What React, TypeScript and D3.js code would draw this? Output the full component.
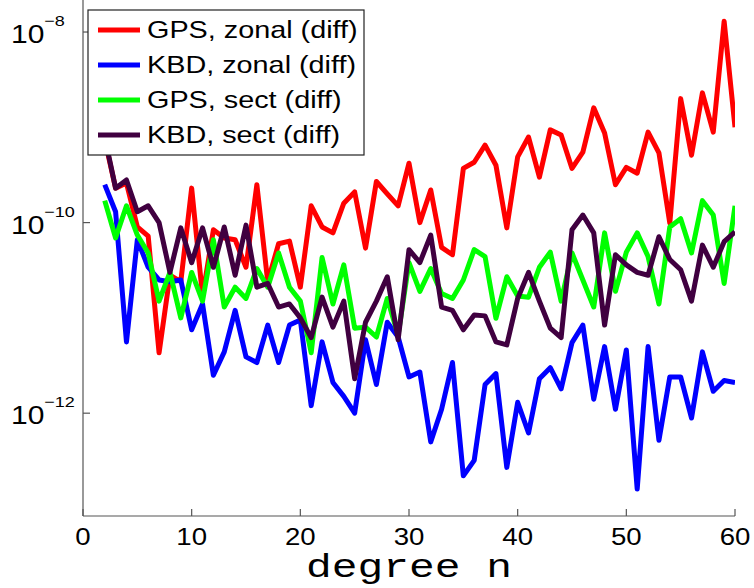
import React from "react";
import * as d3 from "d3";

// Spherical-harmonic degree n
const degrees = [
  2, 3, 4, 5, 6, 7, 8, 9, 10, 11, 12, 13, 14, 15, 16, 17, 18, 19, 20, 21,
  22, 23, 24, 25, 26, 27, 28, 29, 30, 31, 32, 33, 34, 35, 36, 37, 38, 39, 40, 41,
  42, 43, 44, 45, 46, 47, 48, 49, 50, 51, 52, 53, 54, 55, 56, 57, 58, 59, 60,
];

const gpsZonal = [
  7.4e-10, 2.3e-10, 2.6e-10, 9.0e-11, 7.2e-11, 4.3e-12, 2.8e-11, 2.4e-11, 2.3e-10, 1.7e-11,
  8.4e-11, 6.9e-11, 6.6e-11, 3.4e-11, 2.5e-10, 2.4e-11, 6.0e-11, 6.4e-11, 2.1e-11, 1.5e-10,
  9.0e-11, 7.8e-11, 1.6e-10, 2.1e-10, 5.4e-11, 2.7e-10, 2.0e-10, 1.5e-10, 4.2e-10, 1.0e-10,
  2.2e-10, 5.5e-11, 4.6e-11, 3.7e-10, 4.3e-10, 6.5e-10, 4.0e-10, 8.8e-11, 4.9e-10, 7.9e-10,
  3.0e-10, 9.4e-10, 8.3e-10, 3.7e-10, 5.5e-10, 1.6e-9, 8.7e-10, 2.5e-10, 3.8e-10, 3.3e-10,
  8.9e-10, 5.4e-10, 9.9e-11, 2.0e-9, 5.1e-10, 2.3e-9, 8.9e-10, 1.3e-8, 1.0e-9,
];

const kbdZonal = [
  2.5e-10, 1.3e-10, 5.6e-12, 6.6e-11, 3.4e-11, 2.5e-11, 2.4e-11, 2.5e-11, 7.5e-12, 1.4e-11,
  2.5e-12, 4.4e-12, 1.2e-11, 3.9e-12, 3.4e-12, 8.4e-12, 3.4e-12, 8.4e-12, 9.5e-12, 1.2e-12,
  5.6e-12, 2.1e-12, 1.5e-12, 1.0e-12, 5.9e-12, 2.0e-12, 9.0e-12, 6.3e-12, 2.4e-12, 2.7e-12,
  5.0e-13, 1.1e-12, 3.4e-12, 2.2e-13, 3.2e-13, 2.0e-12, 2.6e-12, 2.7e-13, 1.3e-12, 6.2e-13,
  2.3e-12, 3.0e-12, 1.8e-12, 5.5e-12, 8.4e-12, 1.4e-12, 5.0e-12, 1.1e-12, 4.6e-12, 1.6e-13,
  5.0e-12, 5.2e-13, 2.4e-12, 2.4e-12, 8.9e-13, 4.4e-12, 1.7e-12, 2.2e-12, 2.1e-12,
];

const gpsSect = [
  1.7e-10, 6.9e-11, 1.5e-10, 7.4e-11, 4.8e-11, 1.5e-11, 3.0e-11, 1.0e-11, 3.0e-11, 1.5e-11,
  6.6e-11, 1.3e-11, 2.1e-11, 1.6e-11, 3.3e-11, 2.1e-11, 4.8e-11, 2.1e-11, 1.5e-11, 4.3e-12,
  4.3e-11, 1.4e-11, 3.6e-11, 7.8e-12, 8.0e-12, 6.3e-12, 1.6e-11, 6.6e-12, 3.8e-11, 1.9e-11,
  3.3e-11, 1.8e-11, 1.6e-11, 2.5e-11, 5.2e-11, 4.4e-11, 9.9e-12, 2.7e-11, 1.7e-11, 1.65e-11,
  3.4e-11, 4.9e-11, 1.5e-11, 4.8e-11, 2.5e-11, 1.3e-11, 7.8e-11, 1.9e-11, 4.9e-11, 7.8e-11,
  4.4e-11, 1.4e-11, 9.0e-11, 1.1e-10, 4.8e-11, 1.7e-10, 1.2e-10, 2.3e-11, 1.5e-10,
];

const kbdSect = [
  7.9e-10, 2.3e-10, 2.8e-10, 1.3e-10, 1.5e-10, 1.0e-10, 3.0e-11, 8.8e-11, 3.8e-11, 8.8e-11,
  3.4e-11, 9.0e-11, 2.8e-11, 9.4e-11, 2.1e-11, 2.3e-11, 1.3e-11, 1.4e-11, 1.0e-11, 6.2e-12,
  1.65e-11, 8.0e-12, 1.5e-11, 2.3e-12, 9.0e-12, 1.5e-11, 2.7e-11, 5.9e-12, 5.2e-11, 3.8e-11,
  7.4e-11, 1.3e-11, 1.2e-11, 7.5e-12, 1.07e-11, 1.05e-11, 5.6e-12, 5.2e-12, 1.6e-11, 3.0e-11,
  1.5e-11, 7.8e-12, 6.2e-12, 8.4e-11, 1.2e-10, 7.8e-11, 8.4e-12, 4.6e-11, 3.6e-11, 3.0e-11,
  2.8e-11, 7.1e-11, 4.1e-11, 3.2e-11, 1.5e-11, 5.8e-11, 3.4e-11, 6.3e-11, 8.0e-11,
];

const seriesNames = [
  "GPS, zonal (diff)",
  "KBD, zonal (diff)",
  "GPS, sect (diff)",
  "KBD, sect (diff)",
];
const seriesColors = ["#ff0000", "#0000ff", "#00ff00", "#400040"];
const seriesValues = [gpsZonal, kbdZonal, gpsSect, kbdSect];

const xTicks = [0, 10, 20, 30, 40, 50, 60];
const yTickExponents = [-8, -10, -12];
const xLabel = "degree n";

const W = 754;
const H = 588;
const left = 83;
const right = 735;
const top = 0;
const bottom = 516;

export default function App() {
  const x = d3.scaleLinear().domain([0, 60]).range([left, right]);
  const y = d3
    .scaleLog()
    .domain([Math.pow(10, -13.079), Math.pow(10, -7.664)])
    .range([bottom, top]);

  const line = d3
    .line<[number, number]>()
    .x((d) => x(d[0]))
    .y((d) => y(d[1]));

  const axisColor = "#555";
  const sans = "'Liberation Sans', Arial, Helvetica, sans-serif";

  return (
    <svg
      width={W}
      height={H}
      viewBox={`0 0 ${W} ${H}`}
      style={{ position: "absolute", left: 0, top: 0, background: "#fff" }}
    >
      <defs>
        <clipPath id="plotArea">
          <rect x={left} y={top} width={right - left} height={bottom - top} />
        </clipPath>
      </defs>

      {/* data lines */}
      <g clipPath="url(#plotArea)">
        {seriesValues.map((vals, i) => (
          <path
            key={seriesNames[i]}
            d={line(degrees.map((n, k) => [n, vals[k]] as [number, number])) || ""}
            fill="none"
            stroke={seriesColors[i]}
            strokeWidth={5}
            strokeLinejoin="round"
            strokeLinecap="butt"
          />
        ))}
      </g>

      {/* axes */}
      <line x1={left} x2={left} y1={top} y2={bottom} stroke={axisColor} strokeWidth={1.2} />
      <line x1={left} x2={right} y1={bottom} y2={bottom} stroke={axisColor} strokeWidth={1.2} />

      {xTicks.map((t) => (
        <g key={`xt${t}`}>
          <line x1={x(t)} x2={x(t)} y1={bottom} y2={bottom - 7} stroke={axisColor} strokeWidth={1.2} />
          <g transform={`translate(${x(t)},${545}) scale(1.15,1)`}>
            <text textAnchor="middle" fontFamily={sans} fontSize={24} fill="#000">
              {t}
            </text>
          </g>
        </g>
      ))}

      {yTickExponents.map((e) => {
        const py = y(Math.pow(10, e));
        return (
          <g key={`yt${e}`}>
            <line x1={left} x2={left + 7} y1={py} y2={py} stroke={axisColor} strokeWidth={1.2} />
            <g transform={`translate(11,${py + 11}) scale(1.2,1)`}>
              <text fontFamily={sans} fontSize={25} fill="#000">
                10
                <tspan dy={-17} fontSize={15}>
                  {`\u2212${-e}`}
                </tspan>
              </text>
            </g>
          </g>
        );
      })}

      <text
        x={(left + right) / 2}
        y={577}
        textAnchor="middle"
        fontFamily="'Liberation Mono', 'Courier New', monospace"
        fontSize={33}
        textLength={206}
        lengthAdjust="spacingAndGlyphs"
        fill="#000"
      >
        {xLabel}
      </text>

      {/* legend */}
      <g>
        <rect x={88} y={10} width={276} height={145} fill="#fff" stroke="#222" strokeWidth={1.2} />
        {seriesNames.map((name, i) => {
          const by = 38 + i * 35;
          return (
            <g key={`lg${i}`}>
              <line x1={98} x2={140} y1={by - 8} y2={by - 8} stroke={seriesColors[i]} strokeWidth={5} />
              <g transform={`translate(147,${by}) scale(1.2,1)`}>
                <text fontFamily={sans} fontSize={24} fill="#000">
                  {name}
                </text>
              </g>
            </g>
          );
        })}
      </g>
    </svg>
  );
}
